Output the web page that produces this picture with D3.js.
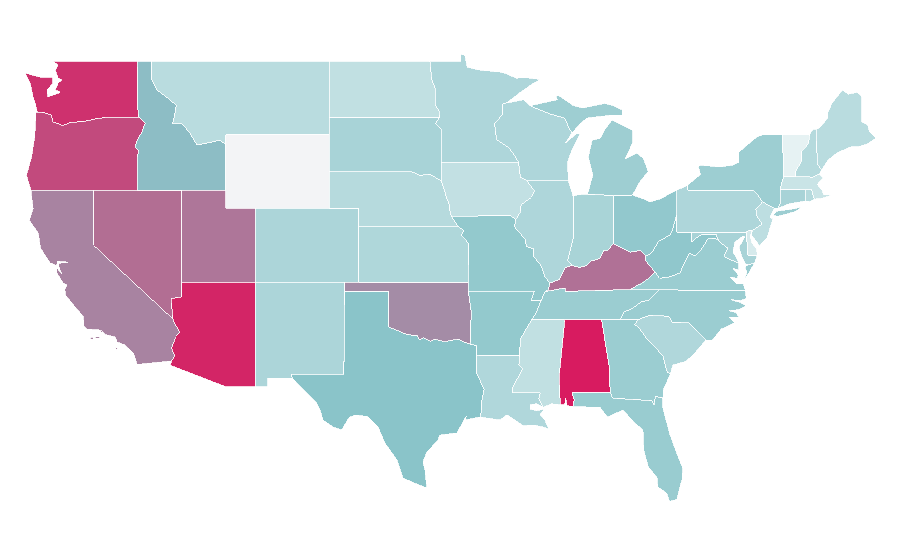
<!DOCTYPE html>
<html><head><meta charset="utf-8">
<style>html,body{margin:0;padding:0;background:#fff}svg{display:block}</style>
<script src="https://cdn.jsdelivr.net/npm/d3@7"></script>
</head><body><svg id="map" width="900" height="560"></svg>
<script>
const stateNames=["WA","OR","CA","NV","ID","MT","WY","UT","CO","AZ","NM","TX","OK","KS","NE","SD","ND","MN","IA","MO","AR","LA","MS","AL","GA","FL","SC","NC","TN","KY","WV","VA","MD","DE","PA","NJ","NY","CT","RI","MA","VT","NH","ME","OH","IN","IL","WI","MI"];
const stateValues=[1.87,1.72,1.385,1.51,1.04,0.598,null,1.46,0.709,1.94,0.709,1,1.33,0.684,0.624,0.744,0.53,0.692,0.521,0.923,0.923,0.675,0.53,2,0.855,0.872,0.675,0.855,0.855,1.49,0.949,0.855,0.744,0.35,0.692,0.564,0.838,0.744,0.632,0.462,0.214,0.632,0.598,0.932,0.735,0.692,0.692,0.829];
const colorStops=["#ffffff","#8ac4c9","#d81b60"];
const noDataColor="#f3f4f6";

// shared wiggly borders (lon, lat)
const columbia=[[-123.82,46.23],[-123.4,46.2],[-122.87,46.07],[-122.75,45.7],[-122.1,45.5],[-121.5,45.68],[-120.75,45.7],[-119.9,45.85],[-119.05,45.96]];
const snake=[[-116.92,45.96],[-116.5,45.65],[-116.75,45.1],[-116.98,44.82],[-117.2,44.33],[-116.95,44.15],[-117.03,43.8]];
const idMt=[[-116.05,49],[-116.05,48],[-115.7,47.43],[-115,47],[-114.4,46.6],[-114.5,46.1],[-114.65,45.6],[-114,45.6],[-113.45,45.05],[-113,44.45],[-112.3,44.55],[-111.45,44.7],[-111.05,44.47]];
const colorado=[[-114.63,35],[-114.57,34.85],[-114.15,34.27],[-114.43,34.05],[-114.72,33.4],[-114.5,33],[-114.72,32.72]];
const redRiver=[[-100,34.56],[-99.5,34.4],[-99.2,34.3],[-98.9,34.2],[-98.4,34.12],[-98.1,34.13],[-97.95,33.88],[-97.65,33.98],[-97.2,33.8],[-96.9,33.9],[-96.6,33.85],[-96.2,33.75],[-95.8,33.85],[-95.25,33.9],[-94.9,33.75],[-94.48,33.64]];
const missouriNE=[[-96.45,42.49],[-96.25,42],[-96.1,41.6],[-95.9,41.2],[-95.85,40.7],[-95.77,40.58]];
const neSd=[[-96.45,42.49],[-96.7,42.6],[-97.2,42.85],[-97.9,42.8],[-98.5,43]];
const redNorth=[[-96.45,45.3],[-96.85,45.6],[-96.56,45.94],[-96.6,46.3],[-96.85,46.6],[-96.85,47.5],[-97.1,48],[-97.23,49]];
const mnWi=[[-92.05,46.72],[-92.3,46.66],[-92.3,46.1],[-92.85,45.6],[-92.75,45],[-92.75,44.75],[-91.9,44.3],[-91.6,44],[-91.22,43.5]];
const ilIa=[[-90.65,42.5],[-90.15,41.95],[-90.35,41.6],[-91.05,41.2],[-91.1,40.8],[-91.42,40.38]];
const ilMo=[[-91.42,40.38],[-91.5,40],[-90.75,39.3],[-90.7,38.95],[-90.2,38.8],[-90.2,38.4],[-89.7,37.9],[-89.45,37.3],[-89.1,36.95]];
const moKy=[[-89.1,36.95],[-89.2,36.6],[-89.4,36.5]];
const lowerMiss=[[-89.7,36],[-90.05,35.3],[-90.3,35]];
const arMs=[[-90.3,35],[-90.6,34.6],[-91.1,33.9],[-91.15,33]];
const laMs=[[-91.15,33],[-91.2,32.5],[-90.95,32.3],[-91.6,31.3],[-91.6,31],[-89.75,31],[-89.85,30.65],[-89.55,30.2]];
const laTx=[[-94.04,33.02],[-94.04,32],[-93.55,31.2],[-93.7,30.6],[-93.72,30.1],[-93.83,29.68]];
const ohioIl=[[-87.6,37.9],[-88.05,37.8],[-88.45,37.15],[-89.1,36.95]];
const ohioIn=[[-84.8,39.1],[-85.2,38.7],[-85.45,38.72],[-85.75,38.27],[-86.3,38.15],[-86.6,37.9],[-87.1,37.8],[-87.6,37.9]];
const ohioOh=[[-82.6,38.4],[-83,38.72],[-83.65,38.63],[-84.2,38.85],[-84.8,39.1]];
const kyWv=[[-81.97,37.54],[-82.6,38.15],[-82.6,38.4]];
const ohWv=[[-82.6,38.4],[-82.2,38.6],[-81.75,39.2],[-81,39.55],[-80.85,39.7],[-80.52,40.64]];
const wvVa=[[-81.97,37.54],[-81.67,37.2],[-80.9,37.3],[-80.3,37.5],[-79.65,38.58],[-79.3,38.42],[-78.87,38.76],[-78.35,39.4],[-77.72,39.32]];
const wvMd=[[-77.72,39.32],[-77.85,39.6],[-78.35,39.6],[-78.75,39.6],[-79.05,39.48],[-79.48,39.2],[-79.48,39.72]];
const tnNc=[[-84.32,35],[-84.05,35.4],[-83.5,35.57],[-82.9,35.95],[-82.4,36],[-81.7,36.58]];
const scGa=[[-83.1,35],[-83.35,34.7],[-83.1,34.55],[-82.6,34],[-81.9,33.4],[-81.45,33],[-81.15,32.1],[-80.92,32.05]];
const ncSc=[[-78.55,33.85],[-79.67,34.8],[-80.8,34.82],[-81.05,35.15],[-82.4,35.2],[-83.1,35]];
const gaFl=[[-81.45,30.7],[-81.95,30.8],[-82.05,30.35],[-82.2,30.57],[-84.85,30.7],[-85,31]];
const alGa=[[-85.6,35],[-85.18,32.87],[-85.05,32.3],[-85.05,31.55],[-85,31]];
const alMs=[[-88.2,35],[-88.1,34.9],[-88.47,31.9],[-88.4,30.35]];
const potomac=[[-76.32,38.04],[-76.9,38.22],[-77.32,38.4],[-77.05,38.85],[-77.55,39.15],[-77.72,39.32]];
const delaware=[[-74.7,41.36],[-75.15,40.95],[-75.1,40.6],[-74.72,40.15],[-75.4,39.8]];
const nyPa=[[-79.76,42.27],[-79.76,42],[-75.35,42],[-75.05,41.75],[-74.7,41.36]];
const ctRiver=[[-71.5,45.01],[-71.6,44.5],[-72.05,44.1],[-72.05,43.6],[-72.45,43],[-72.46,42.73]];
const nhMe=[[-71.08,45.3],[-70.98,43.4],[-70.7,43.07]];
const upperMiWi=[[-90.4,46.55],[-89.1,46.13],[-88.1,45.9],[-87.8,45.35],[-87.6,45.1]];
const rev=a=>a.slice().reverse();

const stateRings={
WA:[[[-117.03,49],[-122.76,49],[-122.4,48.78],[-122.6,48.5],[-122.4,48.08],[-122.15,47.97],[-122.4,47.8],[-122.6,47.43],[-122.25,47.3],[-122.75,47.15],[-123.1,47.05],[-123.15,47.43],[-122.75,47.8],[-122.75,48.13],[-123.65,48.13],[-124.65,48.35],[-124.3,47.8],[-124.1,47.05],[-123.95,46.7],...columbia,snake[0],[-117,46.35]]],
OR:[[...columbia,...snake,[-117.03,42],[-124.25,42],[-124.55,42.8],[-124.2,43.8],[-124,44.85],[-123.95,45.5],[-123.9,46.2]]],
CA:[[[-124.25,42],[-120,42],[-120,39],...colorado,[-117.05,32.53],[-117.3,33.15],[-117.9,33.6],[-118.4,33.75],[-118.55,34.03],[-119.2,34.15],[-119.6,34.4],[-120.47,34.45],[-120.65,34.6],[-120.7,35.14],[-121.3,35.7],[-121.9,36.3],[-121.95,36.6],[-121.8,36.85],[-122.05,36.95],[-122.5,37.5],[-122.5,37.78],[-122.15,37.45],[-122.38,37.88],[-122.35,38.03],[-121.7,38.08],[-122.45,38.13],[-122.5,37.88],[-122.95,38.05],[-123.6,38.85],[-123.75,39.67],[-124.35,40.35],[-124.1,41]],[[-119.9,34.05],[-119.55,34.05],[-119.6,33.95],[-119.9,33.95]],[[-120.25,34.02],[-120.02,34.02],[-120.05,33.88],[-120.2,33.9]],[[-118.55,33.48],[-118.35,33.4],[-118.45,33.32]]],
NV:[[[-120,42],[-114.04,42],[-114.04,36.2],[-114.75,36.1],[-114.63,35],[-120,39]]],
ID:[[[-117.03,49],...idMt,[-111.05,42],[-117.03,42],...rev(snake),[-117,46.35]]],
MT:[[...idMt,[-111.05,45],[-104.05,45],[-104.05,49]]],
WY:[[[-111.05,45],[-104.05,45],[-104.05,41],[-111.05,41]]],
UT:[[[-114.04,42],[-111.05,42],[-111.05,41],[-109.05,41],[-109.05,37],[-114.04,37]]],
CO:[[[-109.05,41],[-102.05,41],[-102.05,37],[-109.05,37]]],
AZ:[[[-114.04,37],[-109.05,37],[-109.05,31.33],[-111.07,31.33],[-114.81,32.49],...rev(colorado),[-114.75,36.1],[-114.04,36.2]]],
NM:[[[-109.05,37],[-103,37],[-103.05,32],[-106.62,32],[-106.53,31.78],[-108.2,31.78],[-108.2,31.33],[-109.05,31.33]]],
TX:[[[-103,36.5],[-100,36.5],...redRiver,[-94.04,33.55],...laTx,[-94.85,29.52],[-94.75,29.75],[-95.4,28.81],[-96.55,28.7],[-96.68,28.43],[-97.43,27.78],[-97.7,27.24],[-97.56,26.8],[-97.43,25.83],[-98.2,26.07],[-99.05,26.37],[-99.46,27.35],[-100.27,28.27],[-100.74,29.14],[-101.42,29.7],[-102.3,29.79],[-102.7,29.65],[-103.2,28.98],[-103.79,29.14],[-104.46,29.52],[-104.67,30.06],[-104.9,30.44],[-105.57,30.98],[-106.53,31.78],[-106.62,32],[-103.05,32]]],
OK:[[[-103,37],[-94.62,37],[-94.62,36.5],[-94.43,35.4],...rev(redRiver),[-100,36.5],[-103,36.5]]],
KS:[[[-102.05,40],[-95.3,40],[-94.9,39.8],[-95.1,39.55],[-94.6,39.1],[-94.62,37],[-102.05,37]]],
NE:[[[-104.05,43],...rev(neSd),...missouriNE,[-95.3,40],[-102.05,40],[-102.05,41],[-104.05,41]]],
SD:[[[-104.05,45.94],[-96.56,45.94],[-96.85,45.6],[-96.45,45.3],[-96.45,43.5],...neSd,[-104.05,43]]],
ND:[[[-104.05,49],[-97.23,49],[-97.1,48],[-96.85,47.5],[-96.85,46.6],[-96.6,46.3],[-96.56,45.94],[-104.05,45.94]]],
MN:[[[-97.23,49],[-95.15,49],[-95.15,49.38],[-94.85,49.3],[-94.7,48.67],[-93.8,48.5],[-92.5,48.4],[-92,48.3],[-91.4,48.07],[-90.75,48.1],[-89.75,48],[-90.3,47.75],[-91.1,47.3],...mnWi,[-96.45,43.5],...redNorth]],
IA:[[[-96.45,43.5],[-91.22,43.5],[-91.1,42.7],...ilIa,[-91.73,40.6],[-95.77,40.58],...rev(missouriNE)]],
MO:[[[-95.77,40.58],[-91.73,40.6],...ilMo,...moKy,[-89.7,36],[-90.37,36],[-90.15,36.5],[-94.62,36.5],[-94.62,37],[-94.6,39.1],[-95.1,39.55],[-94.9,39.8],[-95.3,40]]],
AR:[[[-94.62,36.5],[-90.15,36.5],[-90.37,36],...lowerMiss,...arMs,[-94.04,33.02],[-94.04,33.55],[-94.48,33.64],[-94.43,35.4]]],
LA:[[...laMs,[-89.65,30.27],[-90,30.4],[-90.42,30.35],[-90.45,30.12],[-90,30.03],[-89.55,30.1],[-89.44,30.17],[-89.77,29.8],[-89.44,29.52],[-89.17,29.03],[-89.57,29.14],[-90.25,29.25],[-90.9,29.2],[-91.47,29.52],[-92,29.8],[-92.49,29.52],...rev(laTx)]],
MS:[[...rev(arMs),...alMs,[-89,30.4],...rev(laMs)]],
AL:[[...alMs,[-88.1,30.35],[-88.03,30.7],[-87.95,30.3],[-87.55,30.25],[-87.45,30.6],[-87.6,31],[-85,31],...rev(alGa).slice(1)]],
GA:[[alGa[0],...scGa,[-81.4,31.2],...gaFl,...rev(alGa).slice(1)]],
FL:[[[-87.6,31],...rev(gaFl),[-81.45,30.2],[-81,28.8],[-80.5,27.7],[-80.1,26.9],[-80.15,26.3],[-80.5,25.2],[-81,25.1],[-81.2,25.55],[-81.8,25.9],[-81.85,26.4],[-82.45,27],[-82.75,27.9],[-82.8,28.98],[-83.35,29.36],[-84.15,30.06],[-85.2,29.68],[-85.7,30.2],[-87.55,30.25],[-87.45,30.6]]],
SC:[[...rev(ncSc),[-79.4,33.05],[-79.9,32.7],[-80.77,32.5],...rev(scGa)]],
NC:[[...tnNc,[-75.87,36.55],[-75.8,36.1],[-76.2,36],[-76.85,36.05],[-76.2,35.9],[-75.8,35.7],[-76.3,35.5],[-77,35.45],[-76.5,35.35],[-76.3,35.1],[-76.95,35.1],[-76.6,34.8],[-77.5,34.45],[-78.1,33.86],...ncSc]],
TN:[[[-90.3,35],[-88.2,35],[-85.6,35],...tnNc,[-83.68,36.6],[-88.07,36.5],[-88.07,36.68],[-89.4,36.5],...lowerMiss.slice(0,2)]],
KY:[[[-89.4,36.5],[-88.07,36.68],[-88.07,36.5],[-83.68,36.6],[-83.1,36.85],[-82.3,37.3],...kyWv,...ohioOh,...ohioIn,...ohioIl,...moKy]],
WV:[[...kyWv,...ohWv,[-80.52,39.72],...rev(wvMd),...rev(wvVa)]],
VA:[[[-83.68,36.6],[-81.7,36.58],[-75.87,36.55],[-76,36.93],[-76.45,36.9],[-76.9,37.28],[-76.4,37.2],[-76.35,37.4],[-76.7,37.75],[-76.3,37.65],...potomac,...rev(wvVa),[-82.3,37.3],[-83.1,36.85]],[[-75.95,37.12],[-75.55,37.6],[-75.25,38.03],[-75.65,37.95],[-75.9,37.82],[-75.76,37.55]]],
MD:[[[-79.48,39.72],[-75.79,39.72],[-75.7,38.46],[-75.05,38.45],[-75.25,38.03],[-75.65,37.95],[-75.85,38],[-76.1,38.37],[-76.3,38.9],[-75.9,39.45],[-76.03,39.5],[-76.57,39.18],[-76.7,38.65],[-76.4,38.2],...potomac,...wvMd.slice(1,6)]],
DE:[[[-75.79,39.72],[-75.6,39.83],[-75.4,39.8],[-75.55,39.5],[-75.4,39.1],[-75.1,38.8],[-75.05,38.45],[-75.7,38.46]]],
PA:[[[-80.52,41.98],...nyPa,...delaware.slice(1),[-75.6,39.83],[-75.79,39.72],[-80.52,39.72]]],
NJ:[[...delaware,[-75.45,39.55],[-75.1,39.2],[-74.95,38.95],[-74.4,39.4],[-74.06,40.26],[-74,40.45],[-74.2,40.5],[-73.9,41]]],
NY:[[...nyPa,[-73.9,41],[-73.65,41],[-73.5,41.3],[-73.5,42.05],[-73.27,42.75],[-73.35,45],[-74.7,45],[-75.1,44.87],[-76.3,44.06],[-76.3,43.5],[-76.75,43.35],[-77.6,43.25],[-78.9,43.35],[-79.05,43.25],[-78.9,42.85]],[[-74,40.6],[-73.75,40.85],[-72.6,40.98],[-72,41.1],[-72.5,40.82],[-73.6,40.58]]],
CT:[[[-73.65,41],[-73.5,41.3],[-73.5,42.05],[-71.8,42.02],[-71.8,41.4],[-72.9,41.25]]],
RI:[[[-71.8,42.02],[-71.38,42.02],[-71.2,41.5],[-71.5,41.37],[-71.8,41.4]]],
MA:[[[-73.5,42.05],[-73.27,42.75],[-72.46,42.73],[-71.3,42.7],[-70.85,42.87],[-70.6,42.65],[-71,42.3],[-70.65,41.95],[-70.55,41.75],[-70,41.72],[-70.65,41.55],[-71.2,41.5],[-71.38,42.02],[-71.8,42.02]]],
VT:[[[-73.35,45],...ctRiver,[-73.27,42.75]]],
NH:[[...ctRiver,[-71.3,42.7],[-70.85,42.87],...rev(nhMe),[-71.3,45.3]]],
ME:[[...nhMe,[-70.27,43.63],[-69.67,44],[-68.79,44.33],[-68.2,44.35],[-67.6,44.5],[-67.02,44.82],[-67.45,45.15],[-67.57,45.53],[-67.97,45.69],[-68,47.1],[-68.3,47.3],[-68.9,47.2],[-69.3,47.43],[-70,46.7],[-70.27,46.23],[-70.3,45.9],[-70.8,45.4]]],
OH:[[[-84.8,41.7],[-83.5,41.73],[-82.7,41.5],[-82.35,41.35],[-81.7,41.5],[-80.52,41.98],...rev(ohWv),...ohioOh]],
IN:[[[-87.53,41.68],[-87.1,41.75],[-86.55,41.78],[-84.8,41.7],...ohioIn,[-87.9,38.2],[-87.53,39.35]]],
IL:[[[-90.65,42.5],[-87.85,42.5],[-87.53,41.68],[-87.53,39.35],[-87.9,38.2],...ohioIl,...rev(ilMo).slice(1),...rev(ilIa).slice(1)]],
WI:[[...mnWi,[-91.1,42.7],[-90.65,42.5],[-87.85,42.5],[-87.9,43.5],[-87.6,44.2],[-87.05,45.05],[-87.3,45.05],[-88.05,44.55],...rev(upperMiWi),[-90.9,46.9],[-91.2,46.85]]],
MI:[[[-86.55,41.78],[-84.8,41.7],[-83.5,41.73],[-83,42.45],[-82.45,43],[-82.75,43.7],[-83.2,44],[-84,43.7],[-83.5,44.55],[-83.5,45.25],[-84.15,45.5],[-84.9,45.8],[-85.4,45.25],[-85.7,44.8],[-86.25,44.7],[-86.5,43.8],[-86.2,42.8]],[...upperMiWi,[-87.05,45.6],[-86.6,45.9],[-85,46.05],[-84.2,46.05],[-84.2,46.35],[-84.9,46.6],[-85.4,46.7],[-86.9,46.45],[-87.55,46.6],[-88.55,47.15],[-87.9,47.45],[-88.7,47.05],[-88.6,46.9],[-90.3,46.6]],[[-89.2,47.93],[-88.65,48.12],[-88.9,48.03]]]
};

const width=900,height=560;
const xScale=d3.scaleLinear().domain([-109.05,-66.95]).range([255.3,877]);
const yScale=d3.scaleLinear().domain([49,25]).range([61,503.3]);
const color=d3.scaleLinear().domain([0,1,2]).range(colorStops);
const path=d3.geoPath(d3.geoTransform({point(x,y){this.stream.point(xScale(x),yScale(y));}}));
const features=stateNames.map((n,i)=>({type:"Feature",properties:{name:n,value:stateValues[i]},
  geometry:{type:"MultiPolygon",coordinates:stateRings[n].map(r=>[[...r,r[0]]])}}));
d3.select("#map").selectAll("path").data(features).join("path")
  .attr("d",path).attr("fill",d=>d.properties.value==null?noDataColor:color(d.properties.value))
  .attr("stroke","#fff").attr("stroke-width",0.8).attr("shape-rendering","crispEdges");
</script></body></html>
